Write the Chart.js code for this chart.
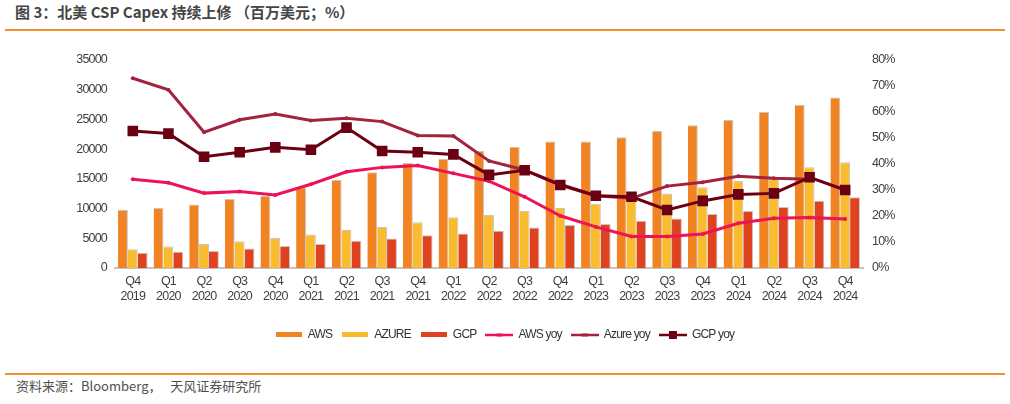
<!DOCTYPE html>
<html lang="zh">
<head>
<meta charset="utf-8">
<title>北美 CSP Capex</title>
<script src="https://cdn.jsdelivr.net/npm/chart.js@4.4.1/dist/chart.umd.min.js"></script>
<style>
  html, body { margin: 0; padding: 0; background: #fff; }
  body { width: 1010px; height: 404px; position: relative; overflow: hidden; }
  .titulo {
    position: absolute; left: 15px; top: 1px;
    font: bold 15px "Noto Sans CJK SC", "Noto Sans", sans-serif;
    color: #454545; white-space: pre;
  }
  .linea { position: absolute; left: 5px; width: 1000px; height: 2px; background: #f0902f; }
  .fuente {
    position: absolute; left: 16px; top: 376px;
    font: 13px "Noto Sans CJK SC", "Noto Sans", sans-serif;
    color: #505050; white-space: pre;
  }
  #wrap { position: absolute; left: 0; top: 40px; width: 1010px; height: 320px; }
</style>
</head>
<body>
<div class="titulo">图 3：北美 CSP Capex 持续上修 （百万美元；%）</div>
<div class="linea" style="top:29px"></div>
<div id="wrap"><canvas id="grafico"></canvas></div>
<div class="linea" style="top:373px"></div>
<div class="fuente">资料来源：Bloomberg，   天风证券研究所</div>

<script>
/* ---------- datos (百万美元 / %) ---------- */
const quarters = ['Q4','Q1','Q2','Q3','Q4','Q1','Q2','Q3','Q4','Q1','Q2','Q3','Q4','Q1','Q2','Q3','Q4','Q1','Q2','Q3','Q4'];
const years    = ['2019','2020','2020','2020','2020','2021','2021','2021','2021','2022','2022','2022','2022','2023','2023','2023','2023','2024','2024','2024','2024'];

const awsCapex   = [9800, 10100, 10700, 11600, 12100, 13600, 14800, 16100, 17700, 18400, 19700, 20400, 21300, 21300, 22000, 23050, 24000, 24900, 26250, 27450, 28700];
const azureCapex = [3150, 3600, 4050, 4500, 5050, 5650, 6400, 6900, 7700, 8550, 8900, 9600, 10100, 10800, 11300, 12550, 13600, 14650, 15250, 16950, 17800];
const gcpCapex   = [2550, 2750, 2850, 3300, 3700, 4050, 4600, 4950, 5500, 5800, 6250, 6800, 7250, 7400, 7950, 8350, 9100, 9600, 10250, 11300, 11900];

const awsYoy   = [34.1, 32.8, 28.8, 29.4, 28.1, 32.2, 37.0, 38.7, 39.4, 36.4, 33.4, 27.4, 20.1, 15.8, 12.1, 12.1, 13.1, 17.2, 19.1, 19.4, 18.8];
const azureYoy = [73.0, 68.5, 52.2, 57.0, 59.2, 56.7, 57.6, 56.3, 51.0, 50.8, 41.2, 37.7, 32.2, 27.8, 26.8, 31.5, 33.0, 35.3, 34.5, 34.1, null];
const gcpYoy   = [52.7, 51.7, 42.8, 44.5, 46.4, 45.5, 54.0, 45.0, 44.5, 43.7, 35.8, 37.6, 31.9, 27.8, 27.4, 22.3, 25.8, 28.3, 28.7, 34.9, 30.0];

const leftTicks  = [0, 35000, 5000];
const rightTicks = [0, 80, 10];

/* ---------- colores ---------- */
const C_AWS = '#f28322', C_AZURE = '#fbbb2f', C_GCP = '#df421e';
const C_AWS_YOY = '#ec1455', C_AZURE_YOY = '#a3233f', C_GCP_YOY = '#6b0012';

// no hay Arial Narrow: Liberation Sans con letras más juntas
const fontTicks = { family: '"Liberation Sans Narrow", "Arial Narrow", "Liberation Sans", Arial, sans-serif', size: 12.5 };
const apretar = {
  id: 'apretar',
  beforeLayout: chart => { chart.ctx.letterSpacing = '-0.8px'; },
  beforeDraw: chart => { chart.ctx.letterSpacing = '-0.8px'; }
};

// pequeñas imágenes para la leyenda (barra o línea con marcador)
function swatchBar(color) {
  const c = document.createElement('canvas');
  c.width = 26; c.height = 6;
  const ctx = c.getContext('2d');
  ctx.fillStyle = color;
  ctx.fillRect(0, 0, 26, 5);
  return c;
}
function swatchLine(color, marker) {
  const c = document.createElement('canvas');
  c.width = 28; c.height = 12;
  const ctx = c.getContext('2d');
  ctx.strokeStyle = color; ctx.lineWidth = 2.5;
  ctx.beginPath(); ctx.moveTo(0, 6); ctx.lineTo(28, 6); ctx.stroke();
  ctx.fillStyle = color;
  if (marker === 'rect') ctx.fillRect(10, 2, 8, 8);
  else ctx.fillRect(11, 4.5, 6, 3);
  return c;
}
const legendImgs = [
  swatchBar(C_AWS), swatchBar(C_AZURE), swatchBar(C_GCP),
  swatchLine(C_AWS_YOY, 'dot'), swatchLine(C_AZURE_YOY, 'dot'), swatchLine(C_GCP_YOY, 'rect')
];

const labels = quarters.map((q, i) => [q, years[i]]);

function barSet(label, data, color) {
  return {
    type: 'bar', label, data, yAxisID: 'y', order: 3,
    backgroundColor: color,
    borderColor: 'rgba(150,150,150,0.55)',
    borderWidth: { top: 1, right: 1, left: 0, bottom: 0 },
    borderSkipped: 'bottom',
    categoryPercentage: 0.83, barPercentage: 1.0
  };
}
function lineSet(label, data, color, order, style, radius) {
  return {
    type: 'line', label, data, yAxisID: 'y1', order,
    borderColor: color, backgroundColor: color, borderWidth: 3,
    pointStyle: style, pointRadius: radius, pointBorderWidth: 0,
    pointBackgroundColor: color, tension: 0, fill: false
  };
}

new Chart(document.getElementById('grafico'), {
  data: {
    labels,
    datasets: [
      barSet('AWS', awsCapex, C_AWS),
      barSet('AZURE', azureCapex, C_AZURE),
      barSet('GCP', gcpCapex, C_GCP),
      lineSet('AWS yoy', awsYoy, C_AWS_YOY, 2, 'circle', 2),
      lineSet('Azure yoy', azureYoy, C_AZURE_YOY, 1, 'circle', 2),
      lineSet('GCP yoy', gcpYoy, C_GCP_YOY, 0, 'rect', 7.5)
    ]
  },
  plugins: [apretar],
  options: {
    responsive: true,
    maintainAspectRatio: false,
    animation: false,
    layout: { padding: { top: 20, right: 0, left: 0, bottom: 9 } },
    scales: {
      x: {
        grid: { display: false, drawTicks: false },
        border: { display: true, color: '#c4c4c4', width: 2 },
        ticks: { font: fontTicks, color: '#404040', padding: 6, maxRotation: 0, autoSkip: false },
        afterFit: s => { s.height = 51; }
      },
      y: {
        position: 'left',
        min: leftTicks[0], max: leftTicks[1],
        grid: { display: false, drawTicks: false },
        border: { display: false },
        ticks: { stepSize: leftTicks[2], font: fontTicks, color: '#404040', padding: 8, callback: v => String(v) },
        afterFit: s => { s.width = 115; }
      },
      y1: {
        position: 'right',
        min: rightTicks[0], max: rightTicks[1],
        grid: { display: false, drawTicks: false },
        border: { display: false },
        ticks: { stepSize: rightTicks[2], font: fontTicks, color: '#404040', padding: 9, callback: v => v + '%' },
        afterFit: s => { s.width = 147; }
      }
    },
    plugins: {
      tooltip: { enabled: false },
      legend: {
        position: 'bottom',
        labels: {
          usePointStyle: true,
          pointStyleWidth: 26,
          padding: 10,
          color: '#333',
          font: { family: fontTicks.family, size: 12 },
          sort: (a, b) => a.datasetIndex - b.datasetIndex,
          generateLabels: chart => Chart.defaults.plugins.legend.labels.generateLabels(chart)
            .map(item => Object.assign(item, { pointStyle: legendImgs[item.datasetIndex] }))
        }
      }
    }
  }
});
</script>
</body>
</html>
